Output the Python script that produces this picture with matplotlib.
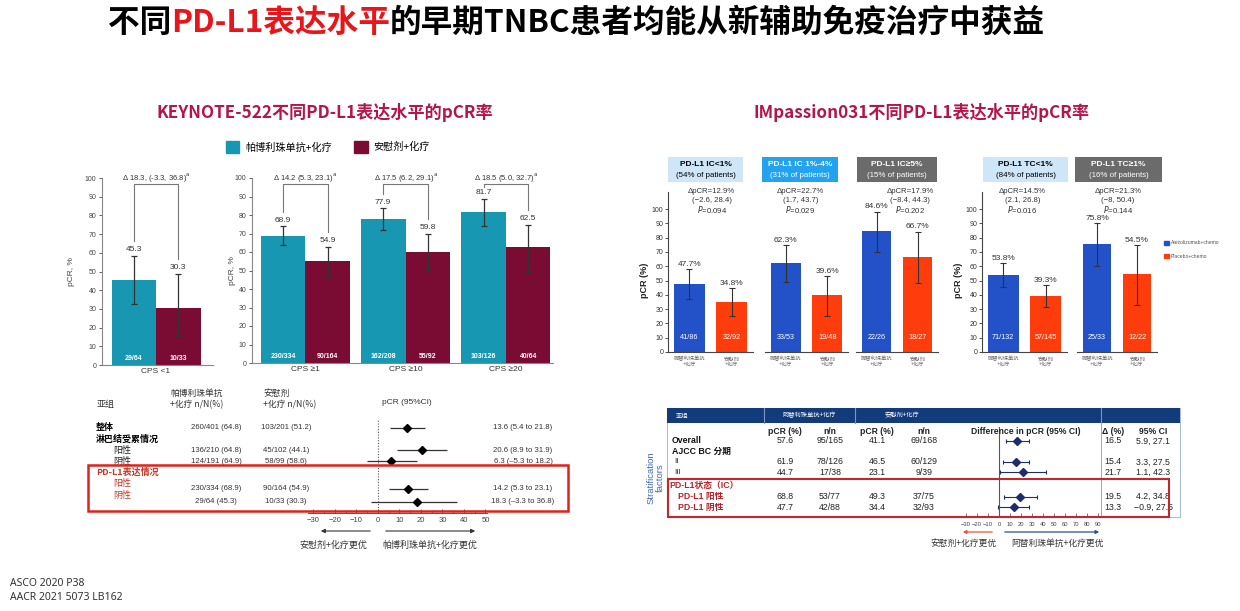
import matplotlib
matplotlib.use('Agg')
import matplotlib.pyplot as plt
import matplotlib.transforms as mtransforms
from matplotlib.patches import Rectangle, Patch
import numpy as np

plt.rcParams['font.family'] = ['Liberation Sans', 'Noto Sans CJK SC', 'DejaVu Sans']
CJK = ['Noto Sans CJK SC', 'DejaVu Sans']

# ---------------- data ----------------
title_parts = ['不同', 'PD-L1表达水平', '的早期TNBC患者均能从新辅助免疫治疗中获益']
title_colors = ['black', '#e8161b', 'black']

# KEYNOTE-522 bar chart
kn_groups = ['CPS <1', 'CPS ≥1', 'CPS ≥10', 'CPS ≥20']
kn_pembro = [45.3, 68.9, 77.9, 81.7]
kn_pembro_lo = [32.8, 63.6, 71.9, 74.0]
kn_pembro_hi = [58.3, 73.8, 83.6, 88.5]
kn_placebo = [30.3, 54.9, 59.8, 62.5]
kn_placebo_lo = [15.6, 46.9, 50.3, 49.4]
kn_placebo_hi = [48.7, 62.6, 70.0, 74.6]
kn_pembro_n = ['29/64', '230/334', '162/208', '103/126']
kn_placebo_n = ['10/33', '90/164', '55/92', '40/64']
kn_delta = [r'Δ 18.3, (-3.3, 36.8)$^{\rm a}$', r'Δ 14.2 (5.3, 23.1)$^{\rm a}$',
            r'Δ 17.5 (6.2, 29.1)$^{\rm a}$', r'Δ 18.5 (5.0, 32.7)$^{\rm a}$']
kn_legend = ['帕博利珠单抗+化疗', '安慰剂+化疗']

# KEYNOTE-522 forest
kf_labels = ['整体', '淋巴结受累情况', '阳性', '阴性', 'PD-L1表达情况', '阳性', '阴性']
kf_pembro = ['260/401 (64.8)', '136/210 (64.8)', '124/191 (64.9)', '230/334 (68.9)', '29/64 (45.3)']
kf_placebo = ['103/201 (51.2)', '45/102 (44.1)', '58/99 (58.6)', '90/164 (54.9)', '10/33 (30.3)']
kf_diff = [13.6, 20.6, 6.3, 14.2, 18.3]
kf_lo = [5.4, 8.9, -5.3, 5.3, -3.3]
kf_hi = [21.8, 31.9, 18.2, 23.1, 36.8]
kf_ticks = [-30, -20, -10, 0, 10, 20, 30, 40, 50]

# IMpassion031 bar chart
ip_head = ['PD-L1 IC<1%', 'PD-L1 IC 1%-4%', 'PD-L1 IC≥5%', 'PD-L1 TC<1%', 'PD-L1 TC≥1%']
ip_share = ['(54% of patients)', '(31% of patients)', '(15% of patients)',
            '(84% of patients)', '(16% of patients)']
ip_atezo = [47.7, 62.3, 84.6, 53.8, 75.8]
ip_atezo_lo = [36.8, 49.2, 70.1, 45.3, 60.1]
ip_atezo_hi = [57.8, 74.8, 98.1, 62.1, 90.0]
ip_placebo = [34.8, 39.6, 66.7, 39.3, 54.5]
ip_placebo_lo = [25.2, 25.4, 48.5, 31.7, 33.0]
ip_placebo_hi = [44.5, 53.1, 84.1, 46.9, 74.8]
ip_atezo_n = ['41/86', '33/53', '22/26', '71/132', '25/33']
ip_placebo_n = ['32/92', '19/48', '18/27', '57/145', '12/22']
ip_dpcr = ['12.9%', '22.7%', '17.9%', '14.5%', '21.3%']
ip_ci = ['(−2.6, 28.4)', '(1.7, 43.7)', '(−8.4, 44.3)', '(2.1, 26.8)', '(−8, 50.4)']
ip_p = ['0.094', '0.029', '0.202', '0.016', '0.144']
ip_xlab = ['阿替利珠单抗\n+化疗', '安慰剂\n+化疗']
ip_legend = ['Atezolizumab+chemo', 'Placebo+chemo']

# IMpassion031 forest
if_labels = ['Overall', 'AJCC BC 分期', 'II', 'III', 'PD-L1状态（IC）', 'PD-L1 阳性', 'PD-L1 阴性']
if_atezo_pcr = ['57.6', '61.9', '44.7', '68.8', '47.7']
if_atezo_nn = ['95/165', '78/126', '17/38', '53/77', '42/88']
if_pbo_pcr = ['41.1', '46.5', '23.1', '49.3', '34.4']
if_pbo_nn = ['69/168', '60/129', '9/39', '37/75', '32/93']
if_diff = [16.5, 15.4, 21.7, 19.5, 13.3]
if_lo = [5.9, 3.3, 1.1, 4.2, -0.9]
if_hi = [27.1, 27.5, 42.3, 34.8, 27.5]
if_ticks = [-30, -20, -10, 0, 10, 20, 30, 40, 50, 60, 70, 80, 90]

# ---------------- style ----------------
TEAL = '#1897b3'
MAROON = '#7a0b33'
BLUE = '#2351c8'
ORANGE = '#ff3d0c'
HDR = ['#cfe6f8', '#22a2ef', '#6b6b6b', '#cfe6f8', '#6b6b6b']
HDR_TXT = ['black', 'white', 'white', 'black', 'white']
SUB = '#b3164a'
RED_BOX = '#e3201b'
DARK_RED = '#c0392b'
NAVY = '#123b7c'

W, H = 1240, 611
fig = plt.figure(figsize=(W / 100, H / 100), dpi=100)


def box(x0, y0, x1, y1):
    return [x0 / W, 1 - y1 / H, (x1 - x0) / W, (y1 - y0) / H]


def fx(x):
    return x / W


def fy(y):
    return 1 - y / H


def frect(x0, y0, x1, y1, **kw):
    r = Rectangle((fx(x0), fy(y1)), (x1 - x0) / W, (y1 - y0) / H, transform=fig.transFigure, **kw)
    fig.add_artist(r)
    return r


# ---------------- titles ----------------
renderer = fig.canvas.get_renderer()
xpos = 108
for s, c in zip(title_parts, title_colors):
    t = fig.text(fx(xpos), fy(23), s, color=c, fontsize=22.8, fontweight='heavy',
                 family=CJK, ha='left', va='center')
    xpos = t.get_window_extent(renderer).x1

fig.text(fx(325), fy(112), 'KEYNOTE-522不同PD-L1表达水平的pCR率', ha='center', va='center',
         fontsize=12.3, fontweight='bold', color=SUB, family=CJK)
fig.text(fx(921), fy(112), 'IMpassion031不同PD-L1表达水平的pCR率', ha='center', va='center',
         fontsize=12.3, fontweight='bold', color=SUB, family=CJK)

# ---------------- KEYNOTE-522 bars ----------------
fig.legend(handles=[Patch(color=TEAL), Patch(color=MAROON)], labels=kn_legend,
           loc='center left', bbox_to_anchor=(fx(217), fy(147)), ncol=2, frameon=False,
           handlelength=1.3, handleheight=1.3, columnspacing=2.2,
           handletextpad=0.6, prop={'family': CJK, 'size': 7.3})


def kn_axes(rect, idx, xlim, ylab_px):
    ax = fig.add_axes(box(*rect))
    x = np.arange(len(idx))
    w = 0.445
    pe = np.array(kn_pembro)[idx]
    pl = np.array(kn_placebo)[idx]
    pe_lo, pe_hi = np.array(kn_pembro_lo)[idx], np.array(kn_pembro_hi)[idx]
    pl_lo, pl_hi = np.array(kn_placebo_lo)[idx], np.array(kn_placebo_hi)[idx]
    ek = dict(ecolor='#333333', elinewidth=0.9, capsize=2, capthick=0.9)
    ax.bar(x - w / 2, pe, w, color=TEAL, yerr=[pe - pe_lo, pe_hi - pe], error_kw=ek)
    ax.bar(x + w / 2, pl, w, color=MAROON, yerr=[pl - pl_lo, pl_hi - pl], error_kw=ek)
    for j, k in enumerate(idx):
        ax.text(x[j] - w / 2, pe_hi[j] + 1.5, f'{pe[j]:.1f}', ha='center', va='bottom',
                fontsize=6, color='#333333')
        ax.text(x[j] + w / 2, pl_hi[j] + 1.5, f'{pl[j]:.1f}', ha='center', va='bottom',
                fontsize=6, color='#333333')
        ax.text(x[j] - w / 2, 3.5, kn_pembro_n[k], ha='center', va='center', fontsize=5,
                color='white', fontweight='bold')
        ax.text(x[j] + w / 2, 3.5, kn_placebo_n[k], ha='center', va='center', fontsize=5,
                color='white', fontweight='bold')
        lb = min(pe_hi[j] + 8, 95)
        rb = min(pl_hi[j] + 8, 95)
        ax.plot([x[j] - w / 2, x[j] - w / 2, x[j] + w / 2, x[j] + w / 2], [lb, 97, 97, rb],
                color='#777777', lw=0.8, clip_on=False)
        ax.text(x[j], 100.5, kn_delta[k], ha='center', va='center', fontsize=5.5,
                color='#333333', clip_on=False)
    ax.set_xlim(*xlim)
    ax.set_ylim(0, 100)
    ax.set_yticks(range(0, 101, 10))
    ax.set_xticks(x)
    ax.set_xticklabels([kn_groups[k] for k in idx])
    ax.tick_params(axis='y', labelsize=5, colors='#444444', length=2, width=0.6, pad=2)
    ax.tick_params(axis='x', labelsize=6, colors='#333333', length=0, pad=2)
    for s in ['top', 'right']:
        ax.spines[s].set_visible(False)
    for s in ['left', 'bottom']:
        ax.spines[s].set_color('#888888')
        ax.spines[s].set_linewidth(0.8)
    ax.set_ylabel('pCR, %', fontsize=6, color='#444444')
    ax.yaxis.set_label_coords((ylab_px - rect[0]) / (rect[2] - rect[0]), 0.5)
    return ax


kn_axes((102, 178, 213, 365), [0], (-0.54, 0.57), 75)
kn_axes((252, 178, 553, 363), [1, 2, 3], (-0.53, 2.47), 236)

# ---------------- KEYNOTE-522 forest ----------------
axf = fig.add_axes(box(308, 420, 487, 513))
rows_n = np.array([0, 2, 3, 5.45, 6.6])
axf.hlines(rows_n, kf_lo, kf_hi, color='#333333', lw=0.9)
axf.plot(kf_diff, rows_n, 'D', color='black', ms=4.2)
axf.axvline(0, color='#555555', lw=0.8, ls=(0, (1, 1.5)))
axf.set_xlim(-32.5, 50.7)
axf.set_ylim(7.6, -0.7)
axf.set_yticks([])
axf.set_xticks(kf_ticks)
axf.set_xticks(np.arange(-30, 51, 5), minor=True)
axf.tick_params(axis='x', which='major', direction='in', length=3, width=0.6,
                labelsize=5.5, colors='#444444', pad=3)
axf.tick_params(axis='x', which='minor', direction='in', length=2, width=0.5, colors='#444444')
for s in ['top', 'right', 'left']:
    axf.spines[s].set_visible(False)
axf.spines['bottom'].set_color('#555555')
axf.spines['bottom'].set_linewidth(0.7)
axf.patch.set_alpha(0)

bt = mtransforms.blended_transform_factory(fig.transFigure, axf.transData)
lab_x = [96, 96, 113, 113, 96, 113, 113]
lab_w = ['bold', 'bold', 'normal', 'normal', 'bold', 'normal', 'normal']
lab_c = ['black', 'black', '#222222', '#222222', DARK_RED, DARK_RED, DARK_RED]
for r, (lab, lx, lw_, lc) in enumerate(zip(kf_labels, lab_x, lab_w, lab_c)):
    axf.text(fx(lx), r, lab, transform=bt, ha='left', va='center', fontsize=6.5,
             fontweight=lw_, color=lc, family=CJK, clip_on=False)
for r, a, b, d, lo, hi in zip(rows_n, kf_pembro, kf_placebo, kf_diff, kf_lo, kf_hi):
    axf.text(fx(216), r, a, transform=bt, ha='center', va='center', fontsize=5.6,
             color='#333333', clip_on=False)
    axf.text(fx(286), r, b, transform=bt, ha='center', va='center', fontsize=5.6,
             color='#333333', clip_on=False)
    txt = f'{d} ({lo} to {hi})'.replace('-', '–')
    axf.text(fx(523), r, txt, transform=bt, ha='center', va='center', fontsize=5.6,
             color='#333333', clip_on=False)

fig.text(fx(97), fy(405), '亚组', fontsize=6.5, family=CJK, color='#333333', va='center')
fig.text(fx(170), fy(393), '帕博利珠单抗', fontsize=6.3, family=CJK, color='#333333', va='center')
fig.text(fx(170), fy(405), '+化疗 n/N(%)', fontsize=6.3, family=CJK, color='#333333', va='center')
fig.text(fx(263), fy(393), '安慰剂', fontsize=6.3, family=CJK, color='#333333', va='center')
fig.text(fx(263), fy(405), '+化疗 n/N(%)', fontsize=6.3, family=CJK, color='#333333', va='center')
fig.text(fx(407), fy(402), 'pCR (95%CI)', fontsize=6, color='#333333', ha='center', va='center')

frect(88, 465, 568, 511, fill=False, ec=RED_BOX, lw=1.8, zorder=10)

arrow_kw = dict(arrowstyle='-|>', color='#333333', lw=0.8, mutation_scale=6)
axf.annotate('', xy=(fx(318), fy(531)), xytext=(fx(373), fy(531)), xycoords='figure fraction',
             arrowprops=arrow_kw)
axf.annotate('', xy=(fx(478), fy(531)), xytext=(fx(383), fy(531)), xycoords='figure fraction',
             arrowprops=arrow_kw)
fig.text(fx(333), fy(545), '安慰剂+化疗更优', fontsize=6.5, family=CJK, color='#333333',
         ha='center', va='center')
fig.text(fx(430), fy(545), '帕博利珠单抗+化疗更优', fontsize=6.5, family=CJK, color='#333333',
         ha='center', va='center')

# ---------------- IMpassion031 bars ----------------
ip_layout = [(668, 753), (765, 848), (856, 938), (982, 1067), (1077, 1157)]
hdr_x = [(668, 743), (762, 838), (857, 937), (983, 1068), (1075, 1162)]
delta_x = [0.53, 0.35, 0.82, 0.45, 0.52]
for i, (x0, x1) in enumerate(ip_layout):
    ax = fig.add_axes(box(x0, 192, x1, 352))
    vals = [ip_atezo[i], ip_placebo[i]]
    err = [[ip_atezo[i] - ip_atezo_lo[i], ip_placebo[i] - ip_placebo_lo[i]],
           [ip_atezo_hi[i] - ip_atezo[i], ip_placebo_hi[i] - ip_placebo[i]]]
    ax.bar([0, 1], vals, 0.72, color=[BLUE, ORANGE], yerr=err,
           error_kw=dict(ecolor='#333333', elinewidth=0.8, capsize=2.5, capthick=0.8))
    for j, (v, hi, n) in enumerate(zip(vals, [ip_atezo_hi[i], ip_placebo_hi[i]],
                                       [ip_atezo_n[i], ip_placebo_n[i]])):
        ax.text(j, hi + 1, f'{v:.1f}%', ha='center', va='bottom', fontsize=6, color='#333333')
        ax.text(j, 10, n, ha='center', va='center', fontsize=5.2, color='white')
    dx = delta_x[i]
    ax.text(dx, 112.5, 'ΔpCR=' + ip_dpcr[i], ha='center', va='center', fontsize=5.6,
            color='#333333', clip_on=False)
    ax.text(dx, 106, ip_ci[i], ha='center', va='center', fontsize=5.6, color='#333333',
            clip_on=False)
    ax.text(dx, 99.5, r'$\it{P}$=' + ip_p[i], ha='center', va='center', fontsize=5.6,
            color='#333333', clip_on=False)
    ax.set_xlim(-0.5, 1.5)
    ax.set_ylim(0, 112)
    ax.set_xticks([0, 1])
    ax.set_xticklabels(ip_xlab, family=CJK, fontsize=3.8, color='#666666', linespacing=1.1)
    ax.tick_params(axis='x', length=0, pad=3)
    for s in ['top', 'right']:
        ax.spines[s].set_visible(False)
    ax.spines['bottom'].set_color('#444444')
    ax.spines['bottom'].set_linewidth(0.8)
    if i in (0, 3):
        ax.set_yticks(range(0, 101, 10))
        ax.tick_params(axis='y', labelsize=5, colors='#333333', length=2, width=0.6, pad=1.5)
        ax.spines['left'].set_color('#444444')
        ax.spines['left'].set_linewidth(0.8)
        ax.set_ylabel('pCR (%)', fontsize=6.5, fontweight='bold', color='#222222')
        ax.yaxis.set_label_coords((649 - x0) / (x1 - x0) if i == 0 else (963 - x0) / (x1 - x0), 0.45)
    else:
        ax.spines['left'].set_visible(False)
        ax.set_yticks([])
    hx0, hx1 = hdr_x[i]
    frect(hx0, 157, hx1, 182, color=HDR[i], ec='none')
    fig.text(fx((hx0 + hx1) / 2), fy(165), ip_head[i], ha='center', va='center', fontsize=6,
             fontweight='bold', color=HDR_TXT[i])
    fig.text(fx((hx0 + hx1) / 2), fy(175.5), ip_share[i], ha='center', va='center', fontsize=5.7,
             color=HDR_TXT[i])

fig.legend(handles=[Patch(color=BLUE), Patch(color=ORANGE)], labels=ip_legend,
           loc='upper left', bbox_to_anchor=(fx(1159), fy(236)), frameon=False,
           handlelength=1.0, handleheight=1.0, handletextpad=0.5, labelspacing=1.6,
           prop={'size': 3.6}, labelcolor='#555555')

# ---------------- IMpassion031 forest ----------------
frect(667, 408, 1180, 517, fill=False, ec='#a9bcd6', lw=0.8)
frect(667, 408, 1180, 423, color=NAVY, ec='none')
for sx in [764, 855, 1101]:
    fig.add_artist(plt.Line2D([fx(sx), fx(sx)], [fy(408), fy(423)], color='#7f95bf', lw=0.8,
                              transform=fig.transFigure))
fig.add_artist(plt.Line2D([fx(1101), fx(1101)], [fy(423), fy(517)], color='#9aa8bb', lw=0.7,
                          transform=fig.transFigure))
fig.text(fx(676), fy(415.5), '亚组', fontsize=4.5, color='white', family=CJK, va='center')
fig.text(fx(809), fy(415.5), '阿替利珠单抗+化疗', fontsize=4.5, color='white', family=CJK,
         ha='center', va='center')
fig.text(fx(902), fy(415.5), '安慰剂+化疗', fontsize=4.5, color='white', family=CJK,
         ha='center', va='center')

col_hdr = ['pCR (%)', 'n/n', 'pCR (%)', 'n/n', 'Difference in pCR (95% CI)', 'Δ (%)', '95% CI']
col_x = [785, 830, 877, 924, 1026, 1113, 1153]
for h, cx in zip(col_hdr, col_x):
    fig.text(fx(cx), fy(431), h, ha='center', va='center', fontsize=6.2, fontweight='bold',
             color='#222222')

axr = fig.add_axes(box(960, 427, 1101, 516))
rows_r = np.array([0, 2, 3, 5.3, 6.3])
axr.errorbar(if_diff, rows_r, xerr=[np.array(if_diff) - np.array(if_lo),
                                    np.array(if_hi) - np.array(if_diff)],
             fmt='D', color='#1c2d6b', ms=4.2, elinewidth=0.8, capsize=1.5, capthick=0.8)
axr.axvline(0, color='#555555', lw=0.8)
axr.set_xlim(-35.5, 92.7)
axr.set_ylim(7.14, -1.33)
axr.set_yticks([])
axr.set_xticks(if_ticks)
axr.tick_params(axis='x', direction='in', length=2, width=0.5, labelsize=4.2, colors='#444444',
                pad=4)
for s in ['top', 'right', 'left', 'bottom']:
    axr.spines[s].set_visible(False)
axr.patch.set_alpha(0)

br = mtransforms.blended_transform_factory(fig.transFigure, axr.transData)
rl_rows = [0, 1, 2, 3, 4.2, 5.3, 6.3]
rl_x = [672, 672, 674, 674, 669, 678, 678]
rl_w = ['bold', 'bold', 'normal', 'normal', 'bold', 'bold', 'bold']
rl_c = ['#111111', '#111111', '#333333', '#333333', '#b8232a', '#b8232a', '#b8232a']
rl_s = [6.3, 6.3, 6.0, 6.0, 6.3, 6.3, 6.3]
for lab, r, lx, w_, c_, s_ in zip(if_labels, rl_rows, rl_x, rl_w, rl_c, rl_s):
    axr.text(fx(lx), r, lab, transform=br, ha='left', va='center', fontsize=s_, fontweight=w_,
             color=c_, family=['Liberation Sans', 'Noto Sans CJK SC', 'DejaVu Sans'], clip_on=False)
for r, a, b, c, d, df, lo, hi in zip(rows_r, if_atezo_pcr, if_atezo_nn, if_pbo_pcr, if_pbo_nn,
                                     if_diff, if_lo, if_hi):
    for txt, cx in zip([a, b, c, d, f'{df}', f'{lo}, {hi}'.replace('-', '−')],
                       [785, 830, 877, 924, 1113, 1153]):
        axr.text(fx(cx), r, txt, transform=br, ha='center', va='center', fontsize=6.3,
                 color='#222222', clip_on=False)

frect(668, 479, 1169, 517, fill=False, ec='#c0282e', lw=1.5, zorder=10)

fig.text(fx(656), fy(478), 'Stratification\nfactors', rotation=90, ha='center', va='center',
         fontsize=6.8, color='#3d6cb3', linespacing=1.0)

axr.annotate('', xy=(fx(960), fy(532)), xytext=(fx(995), fy(532)), xycoords='figure fraction',
             arrowprops=dict(arrowstyle='-|>', color='#e4572e', lw=0.9, mutation_scale=5))
axr.annotate('', xy=(fx(1102), fy(532)), xytext=(fx(1002), fy(532)), xycoords='figure fraction',
             arrowprops=dict(arrowstyle='-|>', color='#2f4d9a', lw=0.9, mutation_scale=5))
fig.text(fx(963), fy(543), '安慰剂+化疗更优', fontsize=6.3, family=CJK, color='#333333',
         ha='center', va='center')
fig.text(fx(1057), fy(543), '阿替利珠单抗+化疗更优', fontsize=6.3, family=CJK, color='#333333',
         ha='center', va='center')

# ---------------- footer ----------------
fig.text(fx(10), fy(583), 'ASCO 2020 P38', fontsize=7.5, family=['Noto Sans', 'DejaVu Sans'],
         color='#333333', va='center')
fig.text(fx(10), fy(598), 'AACR 2021 5073 LB162', fontsize=7.5, family=['Noto Sans', 'DejaVu Sans'],
         color='#333333', va='center')

fig.savefig('out.png', dpi=100)
